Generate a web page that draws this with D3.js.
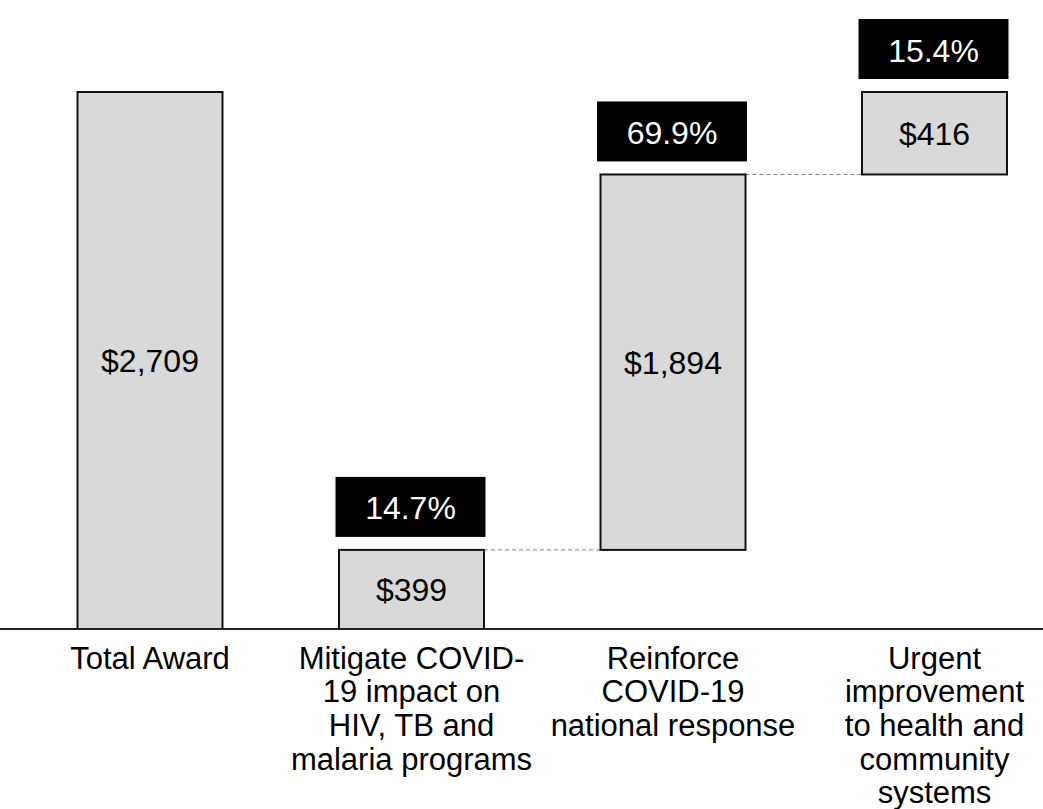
<!DOCTYPE html>
<html>
<head>
<meta charset="utf-8">
<script src="https://cdn.jsdelivr.net/npm/d3@7"></script>
<style>
  html, body { margin: 0; padding: 0; background: #fff; }
  svg { display: block; font-family: "Liberation Sans", Arial, sans-serif; }
</style>
</head>
<body>
<svg id="chart" width="1043" height="809"></svg>
<script>
const categories = [
  ["Total Award"],
  ["Mitigate COVID-", "19 impact on", "HIV, TB and", "malaria programs"],
  ["Reinforce", "COVID-19", "national response"],
  ["Urgent", "improvement", "to health and", "community", "systems"]
];
const categoryKeys = ["Total Award", "Mitigate", "Reinforce", "Urgent"];
const values = [2709, 399, 1894, 416];
const valueLabels = ["$2,709", "$399", "$1,894", "$416"];
const shareLabels = [null, "14.7%", "69.9%", "15.4%"];

const W = 1043, H = 809;
const svg = d3.select("#chart");

const p = 116.5 / 261.5;
const x = d3.scaleBand().domain(categoryKeys).range([19.25, 1065.25]).paddingInner(p).paddingOuter(p / 2);
const y = d3.scaleLinear().domain([0, 2709]).range([629, 92]);

// waterfall segments
const segs = [];
let cum = 0;
values.forEach((v, i) => {
  if (i === 0) { segs.push({ key: categoryKeys[i], y0: 0, y1: v, i }); }
  else { segs.push({ key: categoryKeys[i], y0: cum, y1: cum + v, i }); cum += v; }
});

// connectors
for (let i = 1; i < segs.length - 1; i++) {
  svg.append("line")
    .attr("x1", x(segs[i].key) + x.bandwidth())
    .attr("x2", x(segs[i + 1].key))
    .attr("y1", y(segs[i].y1)).attr("y2", y(segs[i].y1))
    .attr("stroke", "#7f7f7f").attr("stroke-width", 1)
    .attr("stroke-dasharray", "4,3");
}

// bars
svg.selectAll("rect.bar").data(segs).join("rect")
  .attr("class", "bar")
  .attr("x", d => x(d.key))
  .attr("width", x.bandwidth())
  .attr("y", d => y(d.y1))
  .attr("height", d => y(d.y0) - y(d.y1))
  .attr("fill", "#d9d9d9")
  .attr("stroke", "#111")
  .attr("stroke-width", 2);

// value labels
svg.selectAll("text.val").data(segs).join("text")
  .attr("class", "val")
  .attr("x", d => x(d.key) + x.bandwidth() / 2)
  .attr("y", d => (y(d.y0) + y(d.y1)) / 2 + 11.5)
  .attr("text-anchor", "middle")
  .attr("font-size", 32)
  .attr("fill", "#000")
  .text(d => valueLabels[d.i]);

// share boxes
const boxW = 150, boxH = 60, gap = 13;
const shares = segs.filter(d => shareLabels[d.i]);
svg.selectAll("rect.box").data(shares).join("rect")
  .attr("class", "box")
  .attr("x", d => x(d.key) + x.bandwidth() / 2 - boxW / 2 - 1)
  .attr("y", d => y(d.y1) - gap - boxH)
  .attr("width", boxW).attr("height", boxH)
  .attr("fill", "#000");
svg.selectAll("text.share").data(shares).join("text")
  .attr("class", "share")
  .attr("x", d => x(d.key) + x.bandwidth() / 2 - 1)
  .attr("y", d => y(d.y1) - gap - boxH / 2 + 12.5)
  .attr("text-anchor", "middle")
  .attr("font-size", 32)
  .attr("fill", "#fff")
  .text(d => shareLabels[d.i]);

// axis line
svg.append("line")
  .attr("x1", 0).attr("x2", W)
  .attr("y1", y(0)).attr("y2", y(0))
  .attr("stroke", "#222").attr("stroke-width", 2);

// category labels
categoryKeys.forEach((k, i) => {
  const t = svg.append("text")
    .attr("x", x(k) + x.bandwidth() / 2)
    .attr("y", 668)
    .attr("text-anchor", "middle")
    .attr("font-size", 31)
    .attr("fill", "#000");
  categories[i].forEach((line, j) => {
    t.append("tspan")
      .attr("x", x(k) + x.bandwidth() / 2)
      .attr("y", 668.5 + j * 33.7)
      .text(line);
  });
});
</script>
</body>
</html>
